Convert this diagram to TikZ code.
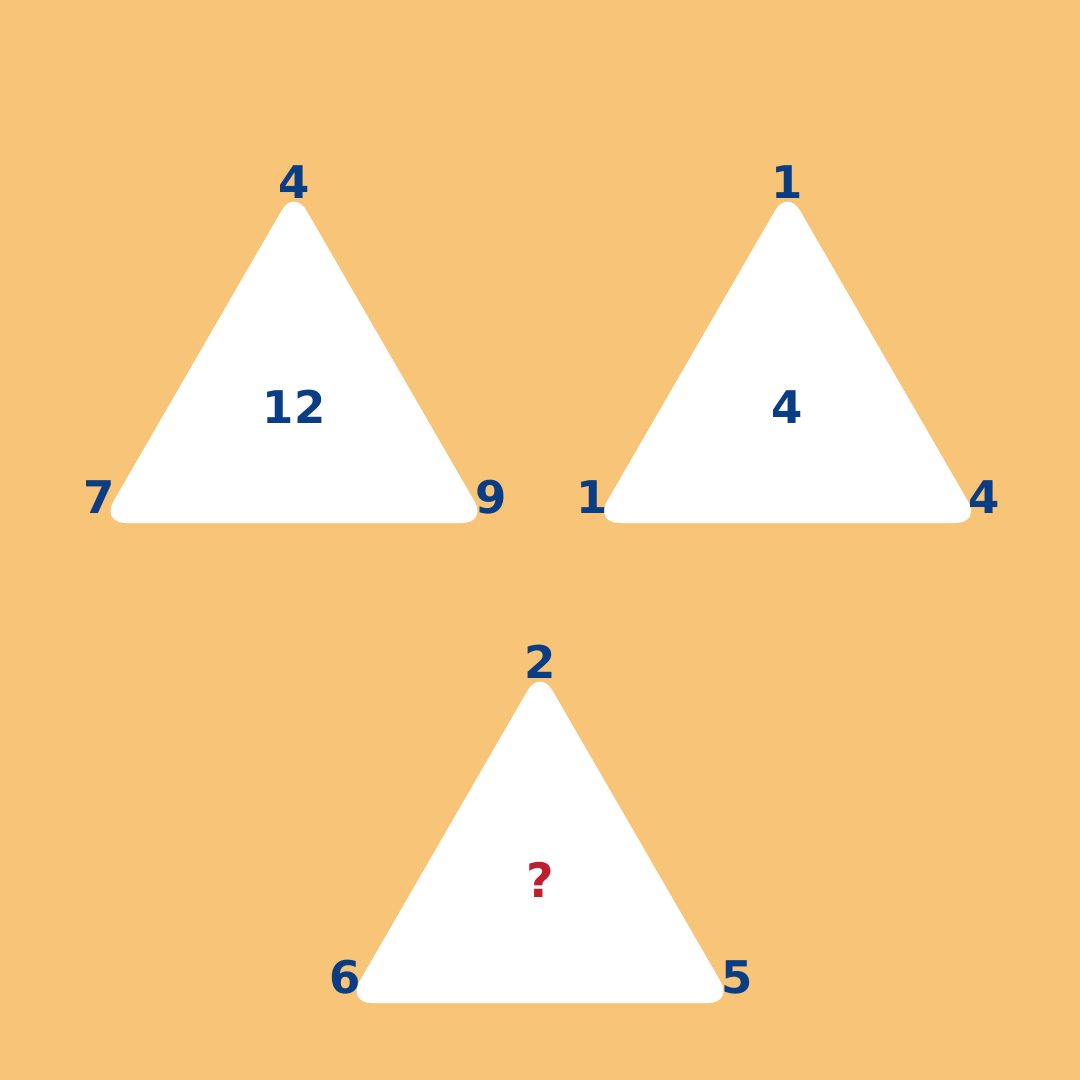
\documentclass[tikz,border=0pt]{standalone}
\usepackage{fontspec}
\setmainfont{DejaVu Sans}
\usetikzlibrary{positioning}
\definecolor{bgorange}{HTML}{F8C478}
\definecolor{numblue}{HTML}{0B3D84}
\definecolor{askred}{HTML}{BF1E2E}
\tikzset{
  tri/.style={fill=white, draw=none, rounded corners=0.25cm},
  num/.style={inner sep=0pt, text=numblue, font=\fontsize{12.8}{15}\selectfont\bfseries}
}

\begin{document}
\begin{tikzpicture}[x=0.01cm, y=-0.01cm]
	\fill[bgorange] (0,0) rectangle (1080,1080);
	\useasboundingbox (0,0) rectangle (1080,1080);

	% three triangles: centre x, base y, top, left, right, middle
	\foreach \cx/\by/\t/\l/\r/\m [count=\i] in {294/523/4/7/9/12, 787.5/523/1/1/4/4, 540/1003/2/6/5/?}
	{
		\coordinate (apex\i) at (\cx, \by-334);
		\coordinate (bl\i) at (\cx-193, \by);
		\coordinate (br\i) at (\cx+193, \by);
		\fill[tri] (bl\i) -- (apex\i) -- (br\i) -- cycle;
		\node[num] (top\i) at (\cx, \by-341) {\t};
		\node[num] (left\i) at (\cx-195, \by-26) {\l};
		\node[num] (right\i) at (\cx+197, \by-26) {\r};
	}
	\node[num] (mid1) at (294, 407) {12};
	\node[num] (mid2) at (787.5, 407) {4};
	\node[num, text=askred, font=\fontsize{13.5}{15}\selectfont\bfseries] (mid3) at (540, 880) {?};
\end{tikzpicture}
\end{document}
